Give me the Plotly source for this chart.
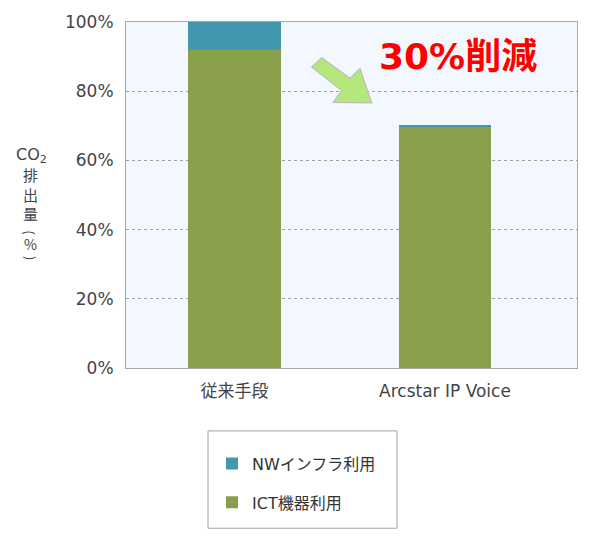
import plotly.graph_objects as go

# chart values
categories = ["従来手段", "Arcstar IP Voice"]
ict_values = [92, 69.7]
nw_values = [8, 0.3]
y_ticks = [0, 20, 40, 60, 80, 100]
y_tick_labels = ["0%", "20%", "40%", "60%", "80%", "100%"]

W, H = 593, 538
L, R, T, B = 126, 16, 16, 170
PW, PH = W - L - R, H - T - B


# pixel -> paper helpers for decorations
def px(x):
    return (x - L) / PW


def py(y):
    return (H - B - y) / PH


fig = go.Figure()
fig.add_trace(go.Bar(x=categories, y=ict_values, name="ICT機器利用",
                     marker=dict(color="#88a04a", line=dict(width=0)),
                     width=0.44, legendrank=2, legendgroup="ict"))
fig.add_trace(go.Bar(x=categories, y=nw_values, name="NWインフラ利用",
                     marker=dict(color="#4197ae", line=dict(width=0)),
                     width=0.44, legendrank=1, legendgroup="nw"))

# green block arrow
arrow_pts = [(321.7, 52.3), (350, 73.3), (360, 63.3), (371.7, 98.3),
             (333.3, 97.7), (341.7, 85.7), (311.7, 61.7)]
path = "M" + " L".join(f"{px(x):.4f},{py(y):.4f}" for x, y in arrow_pts) + " Z"
fig.add_shape(type="path", path=path, xref="paper", yref="paper",
              fillcolor="#b4e87a", line=dict(color="#bcbcbc", width=1.2))

# legend box
fig.add_shape(type="rect", xref="paper", yref="paper",
              x0=px(208), x1=px(397), y0=py(432), y1=py(531),
              fillcolor="white", line=dict(color="#a0a0a0", width=1))

fig.add_annotation(x=px(458), y=py(51), xref="paper", yref="paper",
                   xanchor="center", yanchor="middle",
                   text="<b>30%削減</b>", showarrow=False,
                   font=dict(family="DejaVu Sans, Noto Sans CJK JP", size=36, color="#ff0000",
                             shadow="0px 0px 3px white"))

# vertical y axis title
fig.add_annotation(x=px(31), y=py(152), xref="paper", yref="paper",
                   xanchor="center", yanchor="middle",
                   text="CO<sub>2</sub>", showarrow=False,
                   font=dict(family="DejaVu Sans, Noto Sans CJK JP", size=16, color="#444"))
for ch, yy, sz, ang in [("排", 171, 15, 0), ("出", 191, 15, 0), ("量", 211, 15, 0),
                        ("(", 230, 13, 90), ("%", 242, 14, 0), (")", 256, 13, 90)]:
    fig.add_annotation(x=px(30), y=py(yy), xref="paper", yref="paper",
                       xanchor="center", yanchor="middle", textangle=ang,
                       text=ch, showarrow=False,
                       font=dict(family="Noto Sans CJK JP", size=sz, color="#444"))

fig.update_layout(
    width=W, height=H,
    margin=dict(l=L, r=R, t=T, b=B),
    barmode="stack",
    bargap=0,
    paper_bgcolor="white",
    plot_bgcolor="#f3f8fe",
    font=dict(family="DejaVu Sans, Noto Sans CJK JP", color="#444"),
    showlegend=True,
    legend=dict(x=px(212), y=py(448), xanchor="left", yanchor="top",
                traceorder="grouped", tracegroupgap=15,
                bgcolor="rgba(0,0,0,0)", borderwidth=0,
                font=dict(size=16, color="#333")),
)
fig.update_xaxes(range=[-0.515, 1.627], showline=True, mirror=True, linecolor="#a8a8a8",
                 linewidth=1, showgrid=False, ticks="", ticklabelstandoff=8,
                 tickfont=dict(size=17, color="#444"))
fig.update_yaxes(range=[0, 100], tickvals=y_ticks, ticktext=y_tick_labels,
                 showline=True, mirror=True, linecolor="#a8a8a8", linewidth=1,
                 showgrid=True, gridcolor="#a0a0a0", griddash="dot", gridwidth=1,
                 zeroline=False, ticks="", ticklabelstandoff=8,
                 tickfont=dict(size=17, color="#444"))

fig.write_html("out.html", config={"displayModeBar": False},
               post_script="document.body.style.margin='0';")
